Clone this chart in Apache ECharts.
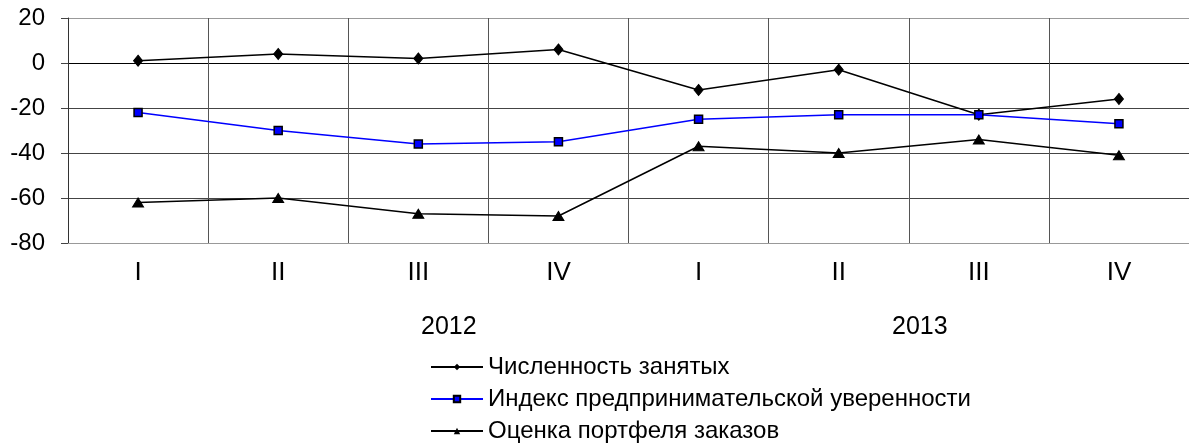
<!DOCTYPE html>
<html>
<head>
<meta charset="utf-8">
<script src="https://cdn.jsdelivr.net/npm/echarts@6/dist/echarts.min.js"></script>
<style>
html,body{margin:0;padding:0;background:#fff;}
#chart{width:1189px;height:443px;}
</style>
</head>
<body>
<div id="chart"></div>
<script>
const quarters = ['I', 'II', 'III', 'IV', 'I', 'II', 'III', 'IV'];
const years = ['2012', '2013'];
const seriesNames = ['Численность занятых', 'Индекс предпринимательской уверенности', 'Оценка портфеля заказов'];
const employment = [1, 4, 2, 6, -12, -3, -23, -16];
const confidence = [-22, -30, -36, -35, -25, -23, -23, -27];
const orders = [-62, -60, -67, -68, -37, -40, -34, -41];

const FONT = '"Liberation Sans", Arial, sans-serif';
const chart = echarts.init(document.getElementById('chart'), null, {renderer: 'canvas'});
chart.setOption({
  animation: false,
  backgroundColor: '#fff',
  grid: {left: 68, top: 18, width: 1125, bottom: 200, containLabel: false},
  xAxis: {
    type: 'category',
    data: quarters,
    boundaryGap: true,
    axisLine: {show: true, onZero: false, lineStyle: {color: '#999', width: 1}},
    axisTick: {show: false},
    axisLabel: {color: '#000', fontFamily: FONT, fontSize: 26, margin: 17},
    splitLine: {show: true, lineStyle: {color: '#555', width: 1}}
  },
  yAxis: {
    type: 'value',
    min: -80, max: 20, interval: 20,
    axisLine: {show: true, lineStyle: {color: '#333', width: 1}},
    axisTick: {show: true, length: 7, lineStyle: {color: '#444'}},
    axisLabel: {color: '#000', fontFamily: FONT, fontSize: 24, margin: 23},
    splitLine: {show: true, lineStyle: {color: ['#999', '#444', '#444', '#444', '#000', '#999'], width: 1}}
  },
  legend: {
    orient: 'vertical',
    left: 430, top: 355, padding: 0,
    height: 88,
    itemWidth: 52, itemHeight: 8, itemGap: 8,
    textStyle: {color: '#000', fontFamily: FONT, fontSize: 24, lineHeight: 24},
    data: seriesNames
  },
  graphic: [
    {type: 'text', left: 450 - 29, top: 315, style: {text: years[0], font: '25px ' + FONT, fill: '#000'}},
    {type: 'text', left: 921 - 29, top: 315, style: {text: years[1], font: '25px ' + FONT, fill: '#000'}}
  ],
  series: [
    {
      name: seriesNames[0], type: 'line', data: employment,
      symbol: 'diamond', symbolSize: [9, 11],
      lineStyle: {color: '#000', width: 1.5},
      itemStyle: {color: '#000', borderColor: '#000'}
    },
    {
      name: seriesNames[1], type: 'line', data: confidence,
      symbol: 'rect', symbolSize: 8,
      lineStyle: {color: '#0000ff', width: 1.5},
      itemStyle: {color: '#0000ff', borderColor: '#000', borderWidth: 1.5}
    },
    {
      name: seriesNames[2], type: 'line', data: orders,
      symbol: 'triangle', symbolSize: [11, 9],
      lineStyle: {color: '#000', width: 1.5},
      itemStyle: {color: '#000', borderColor: '#000'}
    }
  ]
});
</script>
</body>
</html>
